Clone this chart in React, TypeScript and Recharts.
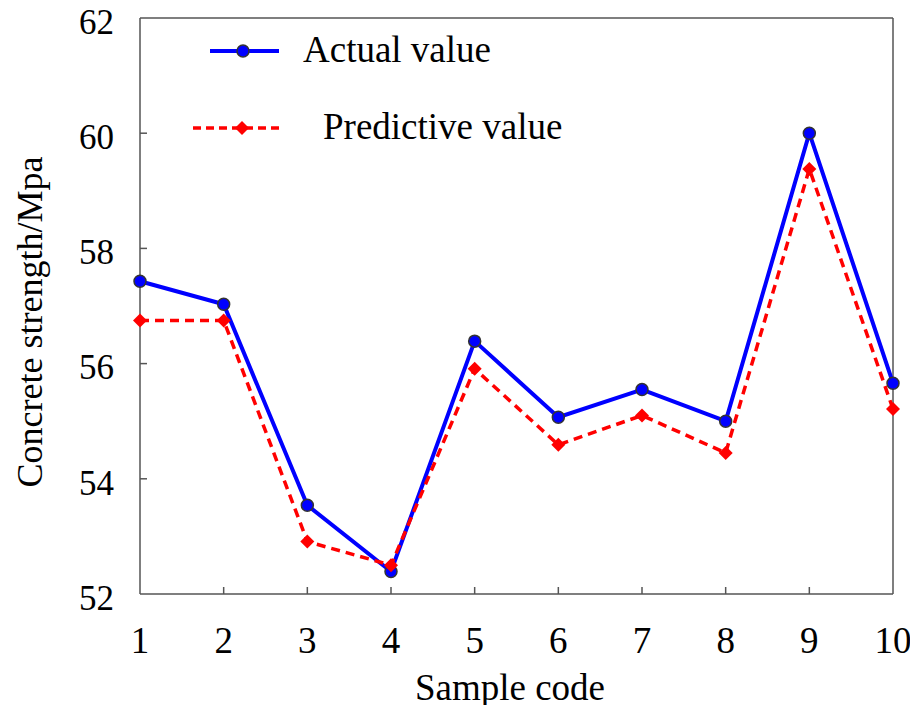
import { LineChart, Line, XAxis, YAxis, Legend, ReferenceLine } from "recharts";

const codes = ["1", "2", "3", "4", "5", "6", "7", "8", "9", "10"];
const actual = [57.43, 57.03, 53.54, 52.39, 56.39, 55.07, 55.55, 55.0, 60.0, 55.66];
const predicted = [56.75, 56.75, 52.91, 52.5, 55.91, 54.59, 55.1, 54.45, 59.38, 55.21];
const yTicks = [52, 54, 56, 58, 60, 62];

const data = codes.map((code, i) => ({ code, actual: actual[i], predicted: predicted[i] }));

const FONT = "Liberation Serif";
const BLUE = "#0000ff";
const RED = "#ff0000";
const AXIS = "#555";

const CircleDot = (props: any) => {
  const { cx, cy } = props;
  if (cx == null || cy == null) return null;
  return <circle cx={cx} cy={cy} r={6} fill={BLUE} stroke="#333" strokeWidth={1.5} />;
};

const DiamondDot = (props: any) => {
  const { cx, cy } = props;
  if (cx == null || cy == null) return null;
  const s = 7;
  return <polygon points={`${cx},${cy - s} ${cx + s},${cy} ${cx},${cy + s} ${cx - s},${cy}`} fill={RED} />;
};

const YTick = ({ x, y, payload }: any) => {
  const v = payload.value;
  return (
    <g>
      {v !== 52 && v !== 62 && <line x1={x} x2={x + 7} y1={y} y2={y} stroke={AXIS} strokeWidth={1.5} />}
      <text x={x - 26} y={y} dy="0.45em" textAnchor="end" style={{ fontFamily: FONT }} fontSize={35} fill="#000">
        {v}
      </text>
    </g>
  );
};

const XTick = ({ x, y, payload }: any) => {
  const v = payload.value;
  return (
    <g>
      {v !== "1" && v !== "10" && <line x1={x} x2={x} y1={y} y2={y - 7} stroke={AXIS} strokeWidth={1.5} />}
      <text x={x} y={y + 46} dy="0.35em" textAnchor="middle" style={{ fontFamily: FONT }} fontSize={37} fill="#000">
        {v}
      </text>
    </g>
  );
};

const LegendBox = () => (
  <svg width={600} height={160} style={{ display: "block", fontFamily: FONT }}>
    <line x1={210} x2={279} y1={51} y2={51} stroke={BLUE} strokeWidth={4} />
    <circle cx={243} cy={51} r={6} fill={BLUE} stroke="#333" strokeWidth={1.5} />
    <text x={303} y={62} fontSize={37} fill="#000">Actual value</text>
    <line x1={193} x2={284} y1={128} y2={128} stroke={RED} strokeWidth={3.5} strokeDasharray="8 5" />
    <polygon points="242,121 249,128 242,135 235,128" fill={RED} />
    <text x={323} y={139} fontSize={37} fill="#000">Predictive value</text>
  </svg>
);

export default function App() {
  return (
    <div style={{ margin: -8, width: 918, height: 713, background: "#fff", fontFamily: FONT }}>
      <LineChart width={918} height={713} data={data} margin={{ top: 18, right: 25, bottom: 0, left: 0 }}>
        <XAxis
          dataKey="code"
          height={119}
          axisLine={{ stroke: AXIS, strokeWidth: 1.5 }}
          tickLine={false}
          tickSize={0}
          tickMargin={0}
          tick={<XTick />}
          interval={0}
          label={{
            content: ({ viewBox }: any) => (
              <text x={viewBox.x + 370} y={viewBox.y + 106} textAnchor="middle" style={{ fontFamily: FONT }} fontSize={37} fill="#000">
                Sample code
              </text>
            ),
          }}
        />
        <YAxis
          type="number"
          domain={[52, 62]}
          ticks={yTicks}
          width={140}
          allowDataOverflow
          axisLine={{ stroke: AXIS, strokeWidth: 1.5 }}
          tickLine={false}
          tickSize={0}
          tickMargin={0}
          tick={<YTick />}
          label={{
            content: ({ viewBox }: any) => {
              const cx = viewBox.x + 30;
              const cy = viewBox.y + viewBox.height / 2 + 16;
              return (
                <text
                  x={cx}
                  y={cy}
                  transform={`rotate(-90 ${cx} ${cy})`}
                  textAnchor="middle"
                  dominantBaseline="central"
                  style={{ fontFamily: FONT }}
                  fontSize={36}
                  fill="#000"
                >
                  Concrete strength/Mpa
                </text>
              );
            },
          }}
        />
        <ReferenceLine y={62} stroke={AXIS} strokeWidth={1.5} />
        <ReferenceLine x="10" stroke={AXIS} strokeWidth={1.5} />
        <Legend
          verticalAlign="middle"
          content={<LegendBox />}
          wrapperStyle={{ top: 0, left: 0, width: 600, height: 160 }}
        />
        <Line
          dataKey="actual"
          stroke={BLUE}
          strokeWidth={4}
          dot={<CircleDot />}
          activeDot={false}
          isAnimationActive={false}
        />
        <Line
          dataKey="predicted"
          stroke={RED}
          strokeWidth={3.5}
          strokeDasharray="9 6"
          dot={<DiamondDot />}
          activeDot={false}
          isAnimationActive={false}
        />
      </LineChart>
    </div>
  );
}
